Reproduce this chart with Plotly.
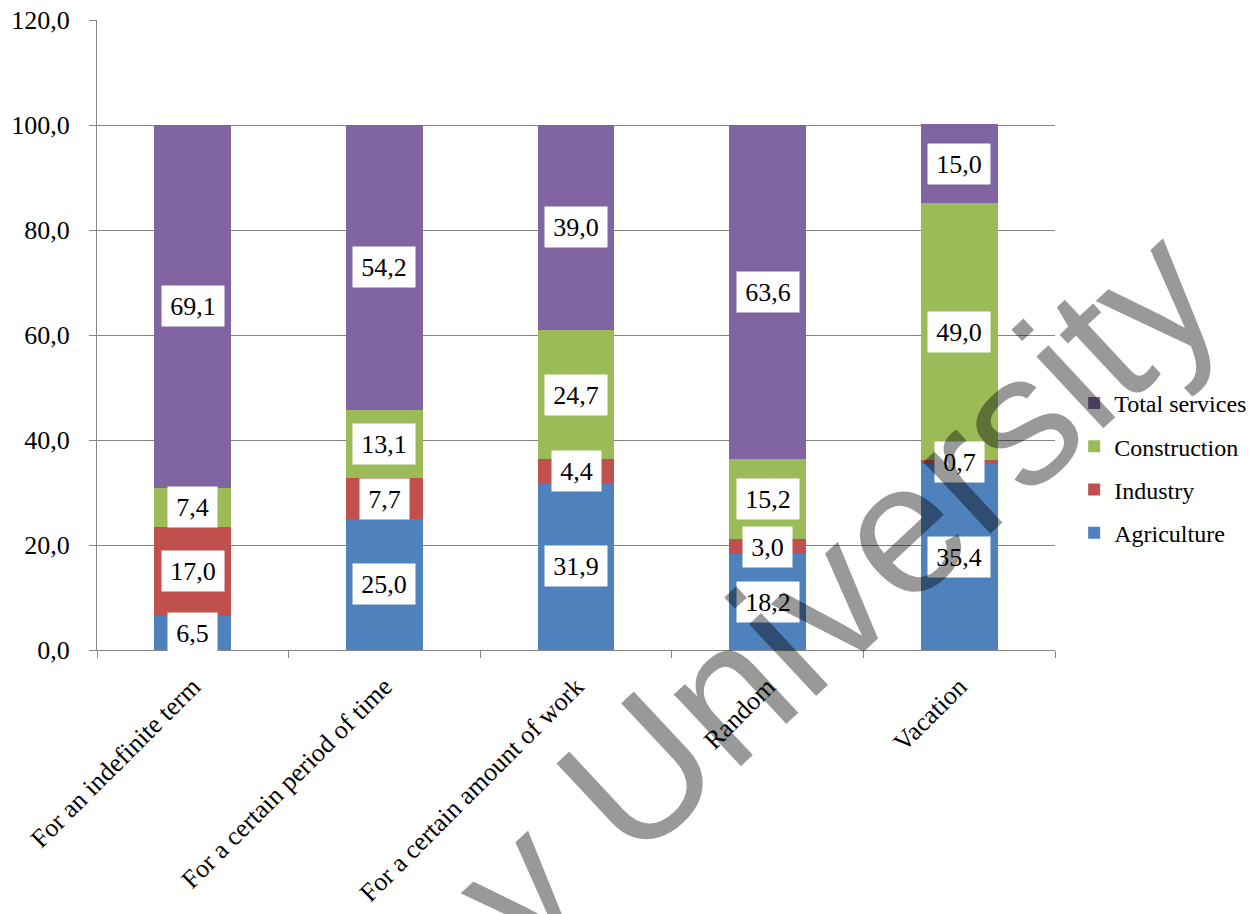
import plotly.graph_objects as go

categories = ["For an indefinite term", "For a certain period of time",
              "For a certain amount of work", "Random", "Vacation"]
agriculture = [6.5, 25.0, 31.9, 18.2, 35.4]
industry = [17.0, 7.7, 4.4, 3.0, 0.7]
construction = [7.4, 13.1, 24.7, 15.2, 49.0]
services = [69.1, 54.2, 39.0, 63.6, 15.0]
series_names = ["Agriculture", "Industry", "Construction", "Total services"]
series_values = [agriculture, industry, construction, services]
colors = ["#4F81BD", "#C0504D", "#9BBB59", "#8064A2"]
y_ticks = [0, 20, 40, 60, 80, 100, 120]
y_ticklabels = ["0,0", "20,0", "40,0", "60,0", "80,0", "100,0", "120,0"]

SERIF = "Liberation Serif"
SANS = "Liberation Sans"

fig = go.Figure()
n = len(series_names)
for k, (name, vals, col) in enumerate(zip(series_names, series_values, colors)):
    fig.add_trace(go.Bar(x=categories, y=vals, name=name, marker_color=col,
                         marker_line_width=0, legendgroup=name,
                         legendrank=1000 + (n - k)))

# value labels in white boxes at segment midpoints
annotations = []
base = [0.0] * len(categories)
for vals in series_values:
    for i, v in enumerate(vals):
        txt = f"{v:.1f}".replace(".", ",")
        ndig = len(txt) - 1
        annotations.append(dict(
            x=categories[i], y=base[i] + v / 2, xref="x", yref="y",
            text=txt, showarrow=False, bgcolor="white",
            font=dict(family=SERIF, size=26, color="black"),
            width=13 * ndig + 23, height=40, borderpad=0))
        base[i] += v

# watermark
annotations.append(dict(
    x=0.770, y=0.095, xref="paper", yref="paper", text="y University",
    xanchor="center", yanchor="middle",
    showarrow=False, textangle=-43,
    font=dict(family=SANS, size=186, color="rgba(0,0,0,0.4)")))

fig.update_layout(
    width=1260, height=914,
    barmode="stack", bargap=0.6,
    plot_bgcolor="white", paper_bgcolor="white",
    margin=dict(l=97, r=205, t=20, b=264, autoexpand=False),
    font=dict(family=SERIF, size=26, color="black"),
    legend=dict(x=1.02, y=0.289, xanchor="left", yanchor="middle",
                traceorder="grouped", tracegroupgap=9,
                font=dict(family=SERIF, size=24, color="black"),
                bgcolor="rgba(0,0,0,0)"),
    annotations=annotations,
    showlegend=True,
)
fig.update_xaxes(type="category", showline=True, linecolor="#868686", linewidth=1,
                 ticks="outside", tickson="boundaries", ticklen=7, tickcolor="#868686",
                 tickangle=-45, tickfont=dict(family=SERIF, size=26, color="black"),
                 ticklabelstandoff=10, showgrid=False, automargin=False)
fig.update_yaxes(range=[0, 120], tickvals=y_ticks, ticktext=y_ticklabels,
                 showline=True, linecolor="#868686", linewidth=1,
                 ticks="outside", ticklen=7, tickcolor="#868686",
                 showgrid=True, gridcolor="#868686", gridwidth=1,
                 tickfont=dict(family=SERIF, size=26, color="black"),
                 ticklabelstandoff=14, zeroline=False, automargin=False)

fig.write_html("out.html", config={"displayModeBar": False},
               post_script="document.body.style.margin='0';")
